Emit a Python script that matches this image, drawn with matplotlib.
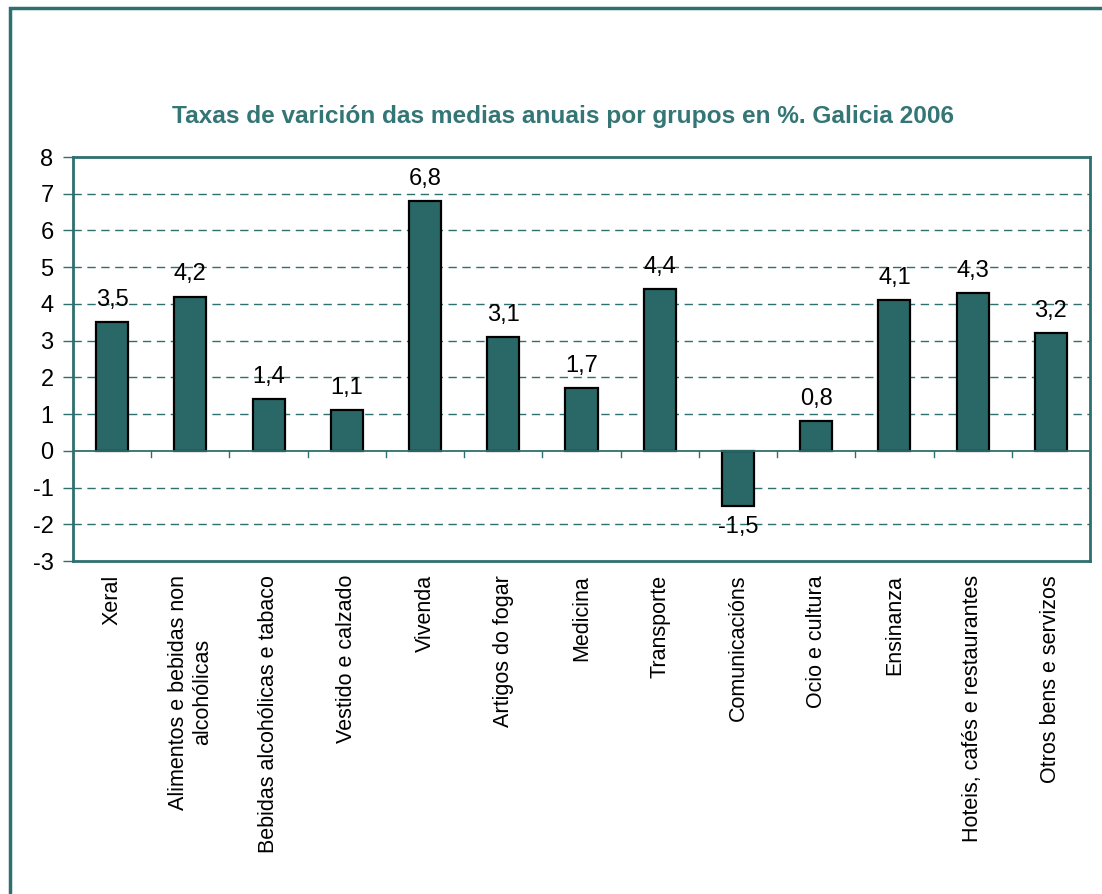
import matplotlib.pyplot as plt
from matplotlib.patches import Rectangle

# Data: taxas de variación das medias anuais (%), Galicia 2006
categories = [
    "Xeral",
    "Alimentos e bebidas non\nalcohólicas",
    "Bebidas alcohólicas e tabaco",
    "Vestido e calzado",
    "Vivenda",
    "Artigos do fogar",
    "Medicina",
    "Transporte",
    "Comunicacións",
    "Ocio e cultura",
    "Ensinanza",
    "Hoteis, cafés e restaurantes",
    "Otros bens e servizos",
]
values = [3.5, 4.2, 1.4, 1.1, 6.8, 3.1, 1.7, 4.4, -1.5, 0.8, 4.1, 4.3, 3.2]
yticks = [-3, -2, -1, 0, 1, 2, 3, 4, 5, 6, 7, 8]

teal = "#2E6F6F"
bar_color = "#2A6868"

plt.rcParams['font.family'] = ['Liberation Sans', 'DejaVu Sans']

W, H = 1102, 894
fig = plt.figure(figsize=(W / 100, H / 100), dpi=100)

# axes box in pixels: left 73, top 157, right 1090, bottom 561
ax = fig.add_axes([73 / W, 1 - 561 / H, (1090 - 73) / W, (561 - 157) / H])

x = list(range(len(categories)))
ax.bar(x, values, width=0.41, color=bar_color, edgecolor="black", linewidth=1.6, zorder=3)

ax.set_xlim(-0.5, len(categories) - 0.5)
ax.set_ylim(-3, 8)
ax.set_yticks(yticks)
ax.set_yticklabels([str(t) for t in yticks], fontsize=17)

# dashed gridlines except at zero
for t in yticks:
    if t not in (0, -3, 8):
        ax.axhline(t, color=teal, linestyle=(0, (6, 4)), linewidth=1.0, zorder=1)
ax.axhline(0, color=teal, linewidth=1.3, zorder=4)

# category separators under the zero line
for b in range(1, len(categories)):
    ax.plot([b - 0.5, b - 0.5], [0, -0.17], color=teal, linewidth=1.0, zorder=4,
            clip_on=False)

for s in ax.spines.values():
    s.set_color(teal)
    s.set_linewidth(2.0)

ax.tick_params(axis="y", length=7, width=1.0, color=teal, pad=7)
ax.set_xticks(x)
ax.set_xticklabels([])
ax.tick_params(axis="x", length=0)

# rotated category labels below the axes
for xi, lab in zip(x, categories):
    ax.annotate(lab, xy=(xi, -3), xytext=(0, -10), textcoords="offset points",
                rotation=90, ha="center", va="top", fontsize=15.5,
                multialignment="center", annotation_clip=False)

# value labels
for xi, v in zip(x, values):
    txt = f"{v:.1f}".replace(".", ",")
    if v >= 0:
        ax.annotate(txt, xy=(xi, v), xytext=(0, 8), textcoords="offset points",
                    ha="center", va="bottom", fontsize=17)
    else:
        ax.annotate(txt, xy=(xi, v), xytext=(0, -7), textcoords="offset points",
                    ha="center", va="top", fontsize=17)

fig.text(563 / W, 1 - 117 / H, "Taxas de varición das medias anuais por grupos en %. Galicia 2006",
         ha="center", va="center", fontsize=17.6, fontweight="bold", color="#347575")

# outer frame, running off the right and bottom edges
fig.patches.append(Rectangle((10 / W, -0.05), 1.1, 1 - 8 / H + 0.05,
                             transform=fig.transFigure, fill=False,
                             edgecolor=teal, linewidth=2.5))

fig.savefig("out.png", dpi=100)
